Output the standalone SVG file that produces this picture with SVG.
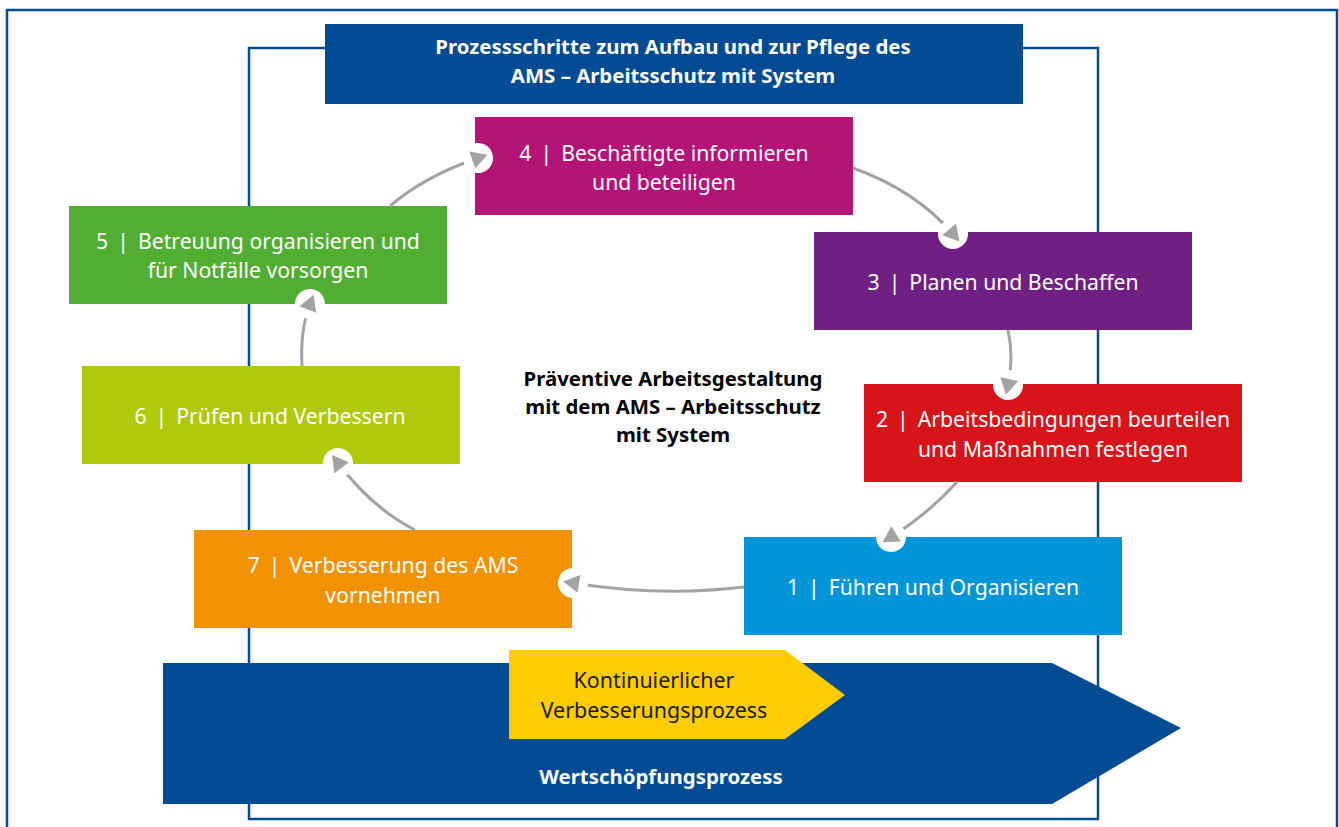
<svg xmlns="http://www.w3.org/2000/svg" width="1339" height="827" viewBox="0 0 1339 827">
<style>
.frame{fill:none;stroke:#004b93;stroke-width:2.5}
.t{font-family:"Noto Sans","Liberation Sans",sans-serif;font-size:21.2px;fill:#ffffff;text-anchor:middle}
.b{font-family:"Noto Sans","Liberation Sans",sans-serif;font-size:20.4px;font-weight:bold;text-anchor:middle}
.k{font-family:"Noto Sans","Liberation Sans",sans-serif;font-size:21.4px;fill:#1a1a1a;text-anchor:middle}
.c{fill:none;stroke:#a3a3a3;stroke-width:3}
</style>
<defs>
<marker id="ah" markerUnits="userSpaceOnUse" viewBox="-17 -17 34 34" markerWidth="34" markerHeight="34" refX="0" refY="0" orient="auto">
<circle cx="0" cy="0" r="15" fill="#ffffff"/>
<polygon points="-6,-9 10,0 -6,9" fill="#a3a3a3"/>
</marker>
</defs>
<rect x="0" y="0" width="1339" height="827" fill="#ffffff"/>
<rect class="frame" x="7" y="10" width="1330" height="830"/>
<rect class="frame" x="249" y="48" width="849" height="771"/>
<g id="title">
<rect x="325" y="24" width="698" height="80" fill="#004b93"/>
<text class="b" x="673" y="54" fill="#ffffff">Prozessschritte zum Aufbau und zur Pflege des</text>
<text class="b" x="673" y="83" fill="#ffffff">AMS – Arbeitsschutz mit System</text>
</g>
<g id="wertschoepfung">
<polygon points="163,663 1052,663 1181,728 1052,804 163,804" fill="#004b93"/>
<text class="b" x="661" y="784" fill="#ffffff">Wertschöpfungsprozess</text>
</g>
<g id="kvp">
<polygon points="509,650 785,650 845,695 785,739 509,739" fill="#ffcc00"/>
<text class="k" x="654" y="688">Kontinuierlicher</text>
<text class="k" x="654" y="718">Verbesserungsprozess</text>
</g>
<g id="center">
<text class="b" x="673" y="386" fill="#000000">Präventive Arbeitsgestaltung</text>
<text class="b" x="673" y="414" fill="#000000">mit dem AMS – Arbeitsschutz</text>
<text class="b" x="673" y="442" fill="#000000">mit System</text>
</g>
<g id="n4">
<rect x="475" y="117" width="378" height="98" fill="#b51477"/>
<text class="t" x="664" y="161">4 &#8201;| &#8201;Beschäftigte informieren</text>
<text class="t" x="664" y="190">und beteiligen</text>
</g>
<g id="n3">
<rect x="814" y="232" width="378" height="98" fill="#702082"/>
<text class="t" x="1003" y="290">3 &#8201;| &#8201;Planen und Beschaffen</text>
</g>
<g id="n2">
<rect x="864" y="384" width="378" height="98" fill="#d7141a"/>
<text class="t" x="1053" y="427">2 &#8201;| &#8201;Arbeitsbedingungen beurteilen</text>
<text class="t" x="1053" y="457">und Maßnahmen festlegen</text>
</g>
<g id="n1">
<rect x="744" y="537" width="378" height="98" fill="#0095d9"/>
<text class="t" x="933" y="595">1 &#8201;| &#8201;Führen und Organisieren</text>
</g>
<g id="n7">
<rect x="194" y="530" width="378" height="98" fill="#f39200"/>
<text class="t" x="383" y="573">7 &#8201;| &#8201;Verbesserung des AMS</text>
<text class="t" x="383" y="603">vornehmen</text>
</g>
<g id="n6">
<rect x="82" y="366" width="378" height="98" fill="#afca0b"/>
<text class="t" x="270" y="424">6 &#8201;| &#8201;Prüfen und Verbessern</text>
</g>
<g id="n5">
<rect x="69" y="206" width="378" height="98" fill="#52ae32"/>
<text class="t" x="258" y="249">5 &#8201;| &#8201;Betreuung organisieren und</text>
<text class="t" x="258" y="278">für Notfälle vorsorgen</text>
</g>
<g id="connectors">
<path class="c" d="M390,206 Q425,176 478,158" marker-end="url(#ah)"/>
<path class="c" d="M853,168 Q915,190 953,234" marker-end="url(#ah)"/>
<path class="c" d="M1008,330 Q1014,358 1008,385" marker-end="url(#ah)"/>
<path class="c" d="M957,482 Q928,514 891,537" marker-end="url(#ah)"/>
<path class="c" d="M744,587 Q660,597 573,583" marker-end="url(#ah)"/>
<path class="c" d="M415,530 Q372,508 338,463" marker-end="url(#ah)"/>
<path class="c" d="M302,366 Q300,330 310,304" marker-end="url(#ah)"/>
</g>
</svg>
